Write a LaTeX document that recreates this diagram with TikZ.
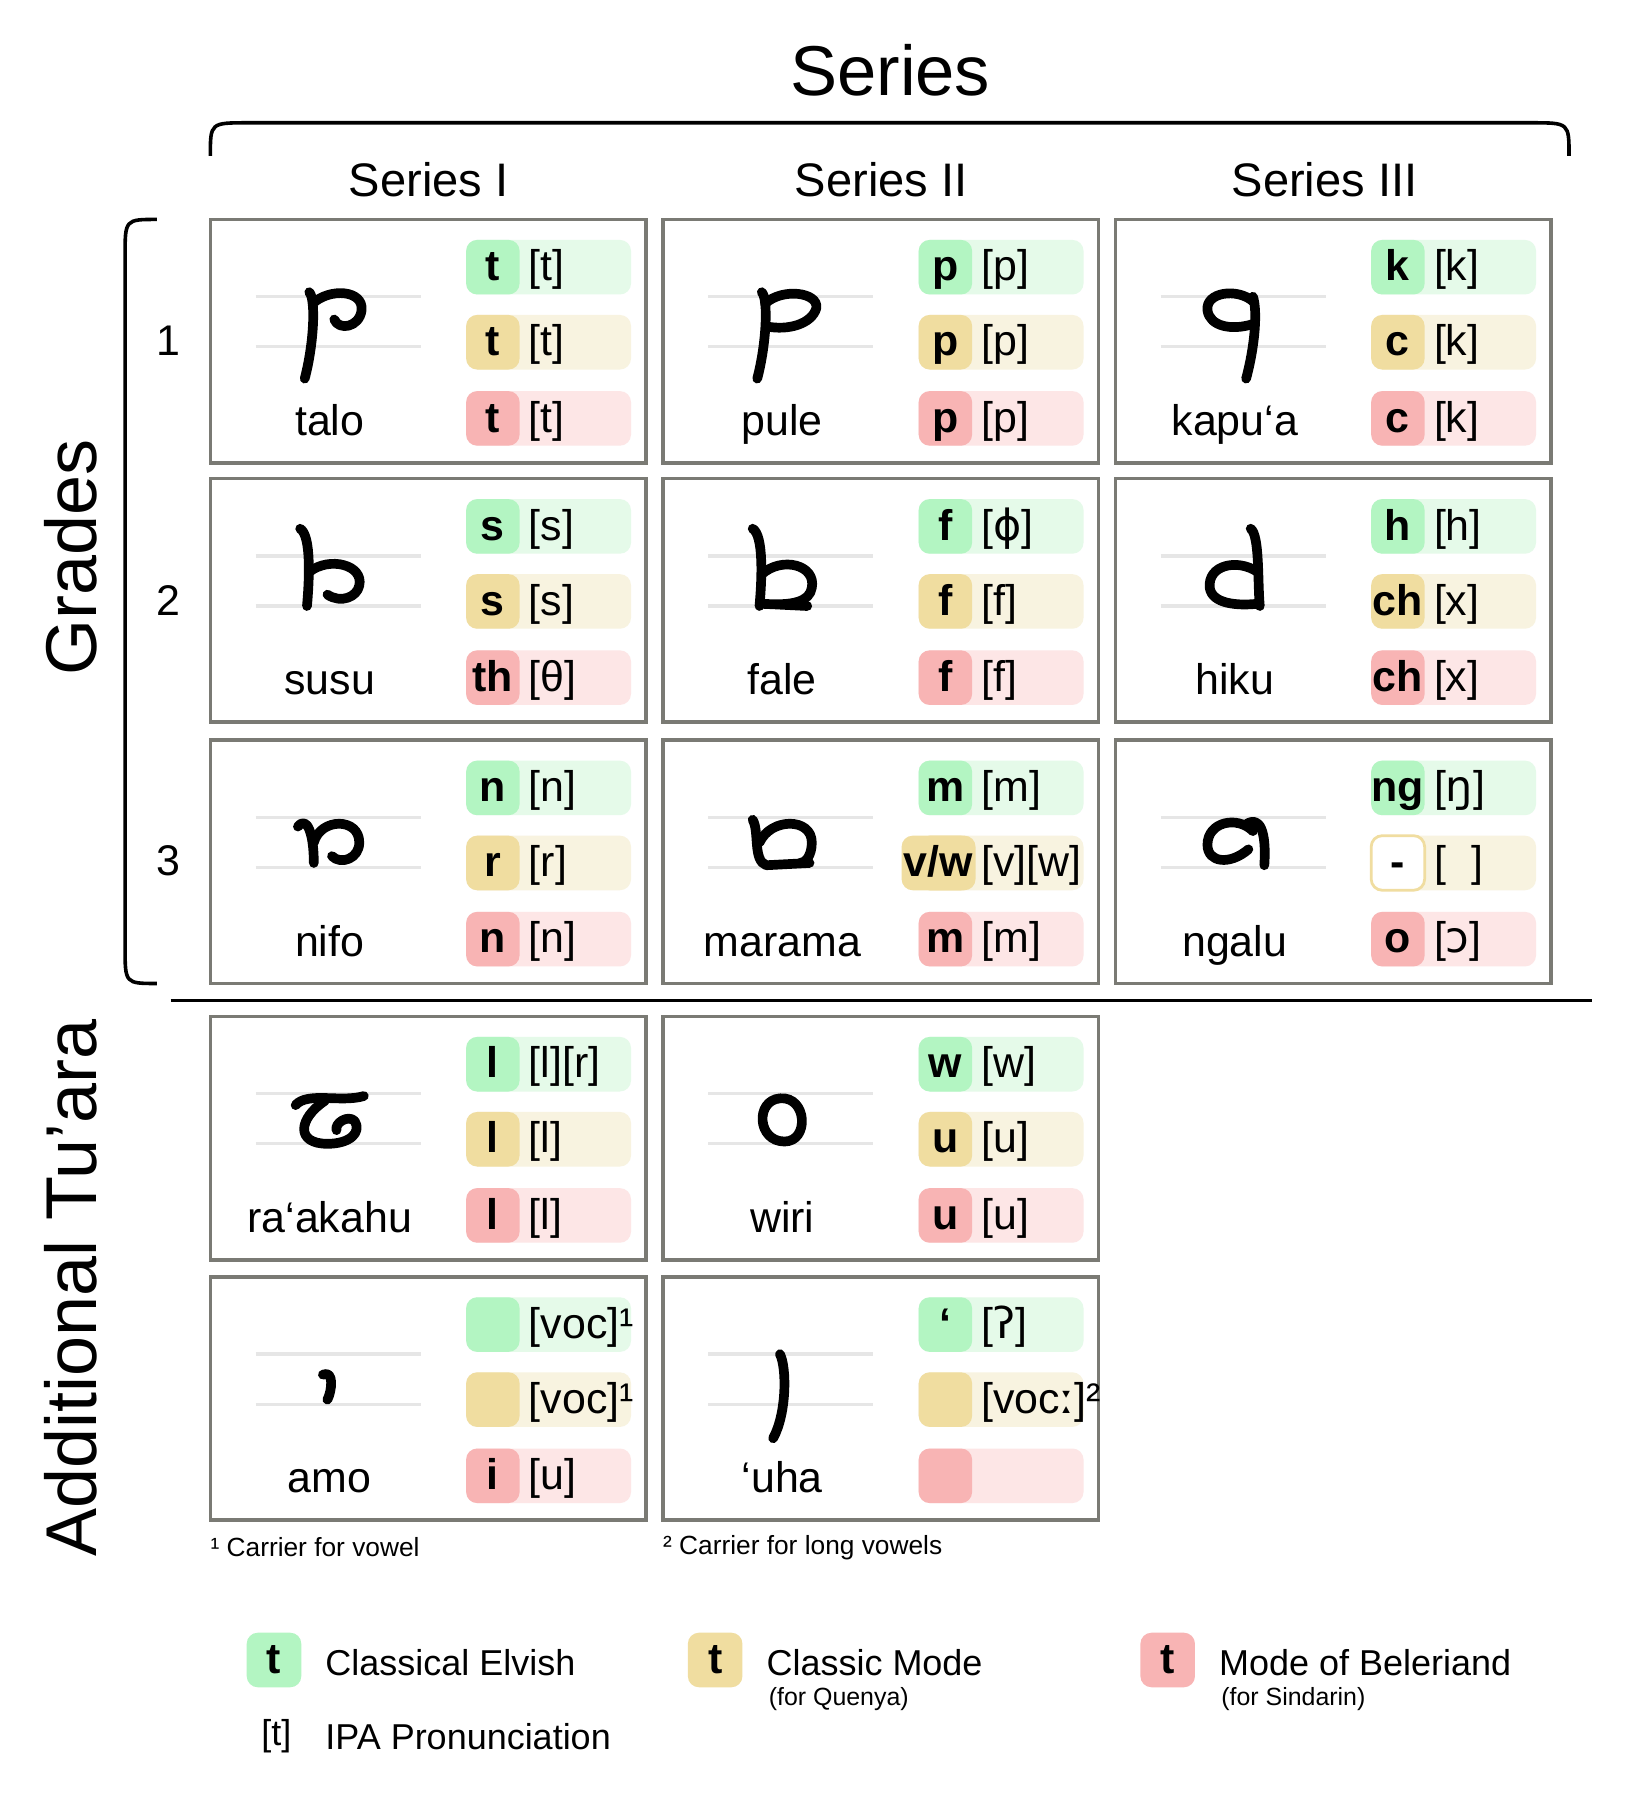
\documentclass[tikz,border=0pt]{standalone}
\usepackage{fontspec}
\setmainfont{Liberation Sans}
\newfontfamily\ipa{DejaVu Sans}
\definecolor{gd}{HTML}{B3F5C2}\definecolor{gl}{HTML}{E5FAE9}
\definecolor{td}{HTML}{F0DDA0}\definecolor{tl}{HTML}{F8F3E0}
\definecolor{pd}{HTML}{F8B4B4}\definecolor{pl}{HTML}{FDE6E6}
\definecolor{bx}{HTML}{7A7A74}\definecolor{gu}{HTML}{E6E6E6}
\newcommand\fs[1]{\fontsize{#1}{#1}\selectfont}
\tikzset{x=0.01137in,y=-0.01137in,
 cellbox/.style={draw=bx,line width=2.6pt},
 guide/.style={draw=gu,line width=2.4pt},
 glyph/.style={line width=7pt,line cap=round,line join=round},
 lett/.style={inner sep=0,anchor=base,font=\fs{31}\bfseries},
 ipat/.style={inner sep=0,anchor=base west,font=\fs{31}},
 word/.style={inner sep=0,font=\fs{31}}}
% pill: x0 y dark light letter ipa
\newcommand\pill[6]{%
 \fill[#4,rounded corners=8pt] ({#1+225},{#2-24}) rectangle ({#1+370},{#2+24});
 \fill[#3,rounded corners=8pt] ({#1+225},{#2-24}) rectangle ({#1+272},{#2+24});
 \node[lett] (p#1-#2) at ({#1+248.5},{#2+12}) {#5};
 \node[ipat] (i#1-#2) at ({#1+280},{#2+12}) {#6};}
\newcommand\tcell[9]{%
 \draw[cellbox] (#1,#2) rectangle ({#1+383},{#2+214});
 \draw[guide] ({#1+40},{#2+68}) -- ({#1+185},{#2+68});
 \draw[guide] ({#1+40},{#2+112}) -- ({#1+185},{#2+112});
 \node[word,anchor=base] (w#1-#2) at ({#1+105},{#2+190}) {#3};
 \pill{#1}{#2+42}{gd}{gl}{#4}{#5}
 \pill{#1}{#2+108}{td}{tl}{#6}{#7}
 \pill{#1}{#2+175}{pd}{pl}{#8}{#9}}
\begin{document}
\begin{tikzpicture}
\useasboundingbox[fill=white] (0,0) rectangle (1440,1577);
\node[inner sep=0,font=\fs{51}] (title) at (783,62) {Series};
\draw[line width=2.6pt] (185,137) .. controls (185,108) .. (218,108) -- (1347,108) .. controls (1380,108) .. (1380,137);
\node[word,font=\fs{34}] (s1) at (377,158) {Series I};
\node[word,font=\fs{34}] (s2) at (775,158) {Series II};
\node[word,font=\fs{34}] (s3) at (1165,158) {Series III};
\draw[line width=2.6pt] (138,193) .. controls (110,193) .. (110,225) -- (110,833) .. controls (110,865) .. (138,865);
\node[inner sep=0,font=\fs{52},rotate=90] (grades) at (62,490) {Grades};
\node[inner sep=0,font=\fs{52},rotate=90] (add) at (62,1133) {Additional Tu’ara};
\node[word] (n1) at (148,300) {1};
\node[word] (n2) at (148,528) {2};
\node[word] (n3) at (148,757) {3};
\draw[line width=2.2pt] (150,880) -- (1400,880);
\tcell{185}{193}{talo}{t}{[t]}{t}{[t]}{t}{[t]}
\tcell{583}{193}{pule}{p}{[p]}{p}{[p]}{p}{[p]}
\tcell{981}{193}{kapu‘a}{k}{[k]}{c}{[k]}{c}{[k]}
\tcell{185}{421}{susu}{s}{[s]}{s}{[s]}{th}{[θ]}
\tcell{583}{421}{fale}{f}{[{\ipa ɸ}]}{f}{[f]}{f}{[f]}
\tcell{981}{421}{hiku}{h}{[h]}{ch}{[x]}{ch}{[x]}
\tcell{185}{651}{nifo}{n}{[n]}{r}{[r]}{n}{[n]}
\tcell{583}{651}{marama}{m}{[m]}{}{[v][w]}{m}{[m]}
\tcell{981}{651}{ngalu}{ng}{[{\ipa ŋ}]}{}{[\kern0.6em]}{o}{[{\ipa ɔ}]}
\tcell{185}{894}{ra‘akahu}{l}{[l][r]}{l}{[l]}{l}{[l]}
\tcell{583}{894}{wiri}{w}{[w]}{u}{[u]}{u}{[u]}
\tcell{185}{1123}{amo}{}{[voc]¹}{}{[voc]¹}{i}{[u]}
\tcell{583}{1123}{‘uha}{‘}{[{\ipa ʔ}]}{}{[voc{\ipa ː}]²}{}{}
% v/w and ngalu dash
\fill[td,rounded corners=8pt] (793,735) rectangle (858,783);
\node[lett] (vw) at (825,771) {v/w};
\fill[white,rounded corners=8pt] (1206,735) rectangle (1253,783);
\draw[td,line width=2pt,rounded corners=8pt] (1206,735) rectangle (1253,783);
\node[lett] (dash) at (1229.5,771) {-};
\node[inner sep=0,anchor=west,font=\fs{19}] (f1) at (185,1361) {¹ Carrier for vowel};
\node[inner sep=0,anchor=west,font=\fs{19}] (f2) at (583,1361) {² Carrier for long vowels};
% glyphs
\begin{scope}[glyph,shift={(290,283)}]
 \draw (-18,-26) .. controls (-12,-20) and (-14,20) .. (-22,50);
 \draw (-15,-16) .. controls (0,-30) and (30,-28) .. (28,-10) .. controls (26,5) and (8,8) .. (4,-2);
\end{scope}
\begin{scope}[glyph,shift={(688,283)}]
 \draw (-18,-26) .. controls (-12,-20) and (-14,20) .. (-22,50);
 \draw (-15,-16) .. controls (0,-30) and (32,-26) .. (30,-12) .. controls (26,2) and (5,8) .. (-14,4);
\end{scope}
\begin{scope}[glyph,shift={(1088,283)}]
 \draw (14,-22) .. controls (18,-10) and (16,20) .. (8,50);
 \draw (14,-18) .. controls (0,-30) and (-28,-26) .. (-26,-10) .. controls (-24,4) and (-5,8) .. (14,2);
\end{scope}
\begin{scope}[glyph,shift={(290,511)}]
 \draw (-26,-46) .. controls (-16,-40) and (-18,0) .. (-20,22);
 \draw (-18,-8) .. controls (0,-22) and (30,-14) .. (26,4) .. controls (24,14) and (10,20) .. (-2,12);
\end{scope}
\begin{scope}[glyph,shift={(688,511)}]
 \draw (-26,-46) .. controls (-16,-40) and (-18,0) .. (-20,22);
 \draw (-18,-6) .. controls (0,-22) and (30,-14) .. (26,6) .. controls (24,18) and (10,22) .. (-18,20) -- (22,22);
\end{scope}
\begin{scope}[glyph,shift={(1088,511)}]
 \draw (12,-46) .. controls (20,-40) and (18,0) .. (20,22);
 \draw (18,-8) .. controls (0,-20) and (-26,-14) .. (-24,6) .. controls (-22,20) and (0,22) .. (18,20);
\end{scope}
\begin{scope}[glyph,shift={(290,741)}]
 \draw (-28,-14) .. controls (-20,-24) and (-14,-8) .. (-14,18);
 \draw (-14,0) .. controls (-8,-22) and (26,-22) .. (26,0) .. controls (26,14) and (10,20) .. (2,12);
\end{scope}
\begin{scope}[glyph,shift={(688,741)}]
 \draw (-26,-20) .. controls (-20,-10) and (-26,16) .. (-14,20) -- (24,18);
 \draw (-20,0) .. controls (-10,-22) and (26,-22) .. (26,0) .. controls (26,12) and (20,18) .. (16,18);
\end{scope}
\begin{scope}[glyph,shift={(1088,741)}]
 \draw (14,-10) .. controls (0,-24) and (-26,-18) .. (-26,2) .. controls (-26,18) and (-6,20) .. (10,6);
 \draw (8,-16) .. controls (20,-24) and (26,-10) .. (24,20);
\end{scope}
\begin{scope}[glyph,shift={(290,984)}]
 \draw (-30,-12) .. controls (-20,-24) and (10,-14) .. (30,-20);
 \draw (-4,-16) .. controls (-28,0) and (-30,22) .. (-2,22) .. controls (18,22) and (28,12) .. (22,2) .. controls (16,-4) and (4,4) .. (6,10);
\end{scope}
\begin{scope}[glyph,shift={(688,984)}]
 \draw (-2,-18) .. controls (-24,-16) and (-22,20) .. (2,20) .. controls (24,20) and (22,-20) .. (-2,-18);
\end{scope}
\begin{scope}[glyph,shift={(290,1213)}]
 \draw (-6,-4) .. controls (4,-8) and (2,10) .. (-2,18);
\end{scope}
\begin{scope}[glyph,shift={(688,1213)}]
 \draw (-2,-22) .. controls (4,-10) and (4,30) .. (-8,52);
\end{scope}
% legend
\fill[gd,rounded corners=8pt] (217,1436) rectangle (265,1484);
\node[lett] (lg1) at (241,1472) {t};
\node[inner sep=0,anchor=west,font=\fs{26}] (lt1) at (286,1462) {Classical Elvish};
\fill[td,rounded corners=8pt] (605,1436) rectangle (653,1484);
\node[lett] (lg2) at (629,1472) {t};
\node[inner sep=0,anchor=west,font=\fs{26}] (lt2) at (674,1462) {Classic Mode};
\node[inner sep=0,anchor=west,font=\fs{18}] (ls2) at (676,1494) {(for Quenya)};
\fill[pd,rounded corners=8pt] (1003,1436) rectangle (1051,1484);
\node[lett] (lg3) at (1027,1472) {t};
\node[inner sep=0,anchor=west,font=\fs{26}] (lt3) at (1072,1462) {Mode of Beleriand};
\node[inner sep=0,anchor=west,font=\fs{18}] (ls3) at (1074,1494) {(for Sindarin)};
\node[inner sep=0,font=\fs{26}] (ipk) at (243,1527) {[t]};
\node[inner sep=0,anchor=west,font=\fs{26}] (ipl) at (286,1527) {IPA Pronunciation};
\end{tikzpicture}
\end{document}
